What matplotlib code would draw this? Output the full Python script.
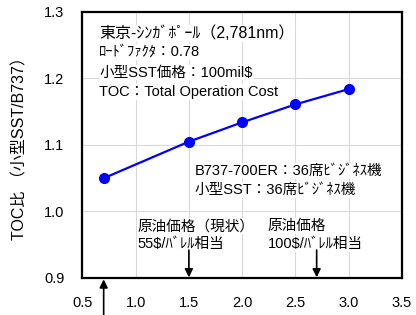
import matplotlib
matplotlib.use("Agg")
import matplotlib.pyplot as plt

plt.rcParams['font.family'] = ['Liberation Sans', 'Noto Sans CJK JP', 'DejaVu Sans']

fuel_ratio = [0.7, 1.5, 2.0, 2.5, 3.0]
toc_ratio = [1.050, 1.105, 1.134, 1.161, 1.184]
x_ticks = [0.5, 1.0, 1.5, 2.0, 2.5, 3.0, 3.5]
y_ticks = [0.9, 1.0, 1.1, 1.2, 1.3]
arrow_down_x = [1.5, 2.7]
arrow_up_x = 0.7

fig = plt.figure(figsize=(4.16, 3.15), dpi=100)
ax = fig.add_axes([0.198, 0.1175, 0.768, 0.8445])

ax.plot(fuel_ratio, toc_ratio, color='#0000ff', lw=1.6, marker='o', ms=7, zorder=3)

ax.set_xlim(0.5, 3.5)
ax.set_ylim(0.9, 1.3)
ax.set_xticks(x_ticks)
ax.set_yticks(y_ticks)
ax.set_xticklabels([f"{v:.1f}" for v in x_ticks])
ax.set_yticklabels([f"{v:.1f}" for v in y_ticks])
ax.tick_params(length=0, labelsize=10.5, pad=13)
ax.grid(True, color='#d9d9d9', lw=0.8)
ax.set_axisbelow(True)
for s in ax.spines.values():
    s.set_linewidth(1.6)
    s.set_color('black')

ax.set_ylabel('TOC比 （小型SST/B737）', fontsize=11.5, labelpad=12)

fs = 10.5
bb = dict(facecolor='white', edgecolor='none', pad=0.5)
top_lines = ['東京-ｼﾝｶﾞﾎﾟｰﾙ（2,781nm）', 'ﾛｰﾄﾞﾌｧｸﾀ：0.78',
             '小型SST価格：100mil$', 'TOC：Total Operation Cost']
top_y = [1.268, 1.240, 1.209, 1.180]
top_fs = [11.5, 10.5, 10.5, 10.5]
for t, y, f in zip(top_lines, top_y, top_fs):
    ax.text(0.66, y, t, fontsize=f, va='center', ha='left', bbox=bb, zorder=2)

ax.text(1.556, 1.061, 'B737-700ER：36席ﾋﾞｼﾞﾈｽ機', fontsize=fs, va='center', bbox=bb, zorder=2)
ax.text(1.556, 1.032, '小型SST：36席ﾋﾞｼﾞﾈｽ機', fontsize=fs, va='center', bbox=bb, zorder=2)

ax.text(1.02, 0.978, '原油価格（現状）', fontsize=fs, va='center', bbox=bb, zorder=2)
ax.text(1.02, 0.951, '55$/ﾊﾞﾚﾙ相当', fontsize=fs, va='center', bbox=bb, zorder=2)
ax.text(2.24, 0.978, '原油価格', fontsize=fs, va='center', bbox=bb, zorder=2)
ax.text(2.24, 0.951, '100$/ﾊﾞﾚﾙ相当', fontsize=fs, va='center', bbox=bb, zorder=2)

for xa in arrow_down_x:
    ax.annotate('', xy=(xa, 0.901), xytext=(xa, 0.942),
                arrowprops=dict(arrowstyle='-|>', color='black', lw=1.2,
                                mutation_scale=12, shrinkA=0, shrinkB=0))

ax.annotate('', xy=(arrow_up_x, 0.9), xycoords='data',
            xytext=(0, -30), textcoords='offset points',
            arrowprops=dict(arrowstyle='-|>', color='black', lw=1.2,
                            mutation_scale=12, shrinkA=0, shrinkB=1),
            annotation_clip=False)

fig.savefig('out.png', dpi=100)
